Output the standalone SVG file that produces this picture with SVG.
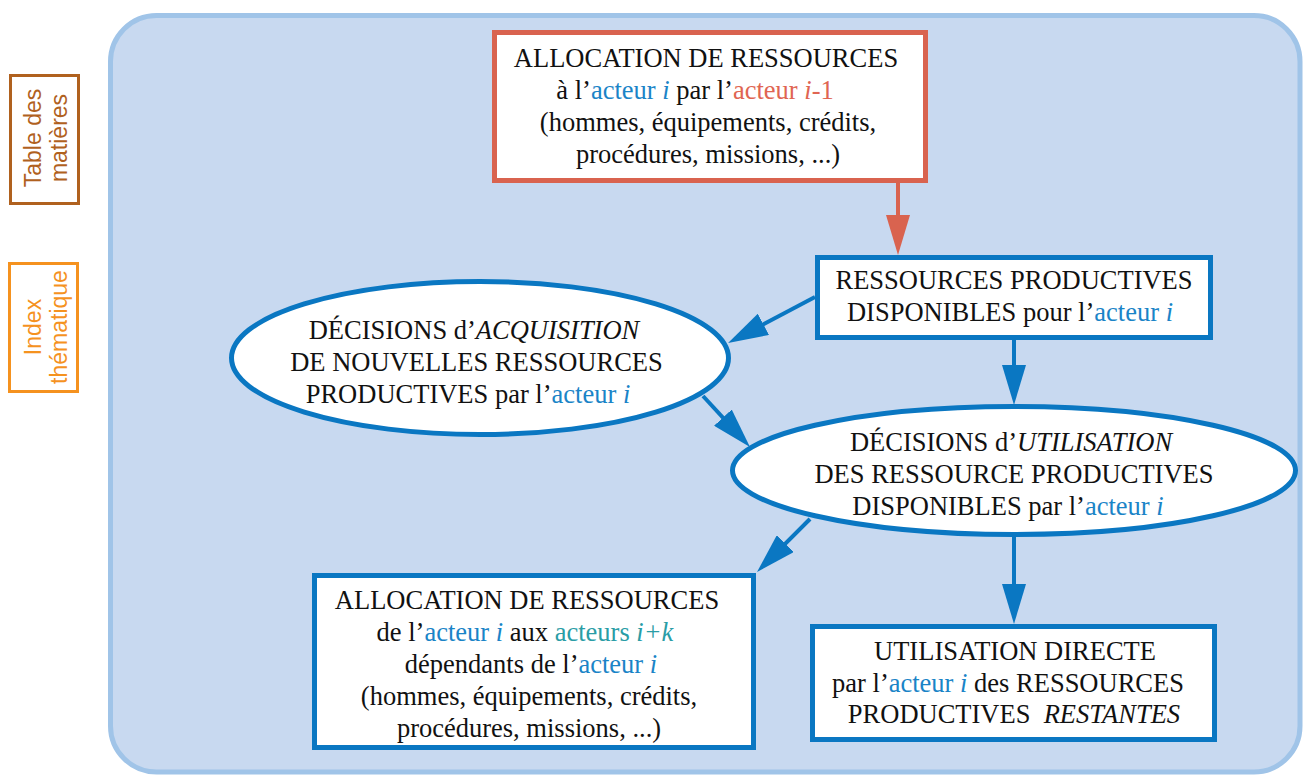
<svg xmlns="http://www.w3.org/2000/svg" width="1304" height="778" viewBox="0 0 1304 778">
<style>
.t{font-family:"Liberation Serif","Times New Roman",serif;font-size:26.5px;fill:#111;text-anchor:middle}
.b{fill:#1A84C7}
.r{fill:#E06552}
.g{fill:#2A9DA6}
.it{font-style:italic}
.side{font-family:"Liberation Sans",Arial,sans-serif;font-size:23px;text-anchor:middle}
.nodeB{fill:#fff;stroke:#0A77C2;stroke-width:5}
.nodeR{fill:#fff;stroke:#D9634F;stroke-width:5}
.cB{stroke:#0A77C2;stroke-width:4;fill:none}
.cR{stroke:#D9634F;stroke-width:4;fill:none}
</style>
<defs>
<marker id="ab" markerUnits="userSpaceOnUse" markerWidth="40" markerHeight="24" refX="30" refY="12" orient="auto"><path d="M0,0 L40,12 L0,24 z" fill="#0A77C2"/></marker>
<marker id="ar" markerUnits="userSpaceOnUse" markerWidth="40" markerHeight="24" refX="30" refY="12" orient="auto"><path d="M0,0 L40,12 L0,24 z" fill="#D9634F"/></marker>
</defs>
<rect width="1304" height="778" fill="#fff"/>
<g id="sidebar">
<g id="toc">
<rect x="10.5" y="75.5" width="68" height="128" fill="none" stroke="#B0611E" stroke-width="3"/>
<text class="side" fill="#B0611E" transform="translate(41,138) rotate(-90)">Table des</text>
<text class="side" fill="#B0611E" transform="translate(67,138) rotate(-90)">matières</text>
</g>
<g id="index">
<rect x="9.5" y="263.5" width="68" height="128" fill="none" stroke="#F5921F" stroke-width="3"/>
<text class="side" fill="#F5921F" transform="translate(41,327) rotate(-90)">Index</text>
<text class="side" fill="#F5921F" transform="translate(67,327) rotate(-90)">thématique</text>
</g>
</g>
<g id="background">
<rect x="110.5" y="15.5" width="1189.5" height="756.5" rx="46" ry="46" fill="#C8D9F0" stroke="#A0C4E8" stroke-width="5"/>
</g>
<g id="connectors">
<line class="cR" x1="898" y1="183" x2="898" y2="245" marker-end="url(#ar)"/>
<line class="cB" x1="815" y1="297" x2="736.9" y2="338.4" marker-end="url(#ab)"/>
<line class="cB" x1="1014" y1="340" x2="1014" y2="395" marker-end="url(#ab)"/>
<line class="cB" x1="703" y1="396" x2="743.2" y2="439.7" marker-end="url(#ab)"/>
<line class="cB" x1="810" y1="519" x2="764.1" y2="564.9" marker-end="url(#ab)"/>
<line class="cB" x1="1014" y1="537" x2="1014" y2="614" marker-end="url(#ab)"/>
</g>
<g id="alloc-in">
<rect class="nodeR" x="494.5" y="32.5" width="431" height="148"/>
<text class="t" x="706" y="67">ALLOCATION DE RESSOURCES</text>
<text class="t" x="695" y="99">à l’<tspan class="b">acteur </tspan><tspan class="b it">i</tspan> par l’<tspan class="r">acteur </tspan><tspan class="r it">i</tspan><tspan class="r">-1</tspan></text>
<text class="t" x="708" y="131">(hommes, équipements, crédits,</text>
<text class="t" x="708" y="163">procédures, missions, ...)</text>
</g>
<g id="ressources">
<rect class="nodeB" x="817.5" y="257.5" width="393" height="80"/>
<text class="t" x="1014" y="289">RESSOURCES PRODUCTIVES</text>
<text class="t" x="1010" y="321">DISPONIBLES pour l’<tspan class="b">acteur </tspan><tspan class="b it">i</tspan></text>
</g>
<g id="acquisition">
<ellipse class="nodeB" cx="480" cy="358" rx="248.5" ry="76.5"/>
<text class="t" x="474" y="339">DÉCISIONS d’<tspan class="it">ACQUISITION</tspan></text>
<text class="t" x="476.5" y="371">DE NOUVELLES RESSOURCES</text>
<text class="t" x="468" y="403">PRODUCTIVES par l’<tspan class="b">acteur </tspan><tspan class="b it">i</tspan></text>
</g>
<g id="utilisation">
<ellipse class="nodeB" cx="1014" cy="470.5" rx="281.5" ry="64"/>
<text class="t" x="1011" y="451">DÉCISIONS d’<tspan class="it">UTILISATION</tspan></text>
<text class="t" x="1014" y="483">DES RESSOURCE PRODUCTIVES</text>
<text class="t" x="1008" y="515">DISPONIBLES par l’<tspan class="b">acteur </tspan><tspan class="b it">i</tspan></text>
</g>
<g id="alloc-out">
<rect class="nodeB" x="314.5" y="575.5" width="439" height="172"/>
<text class="t" x="527" y="609">ALLOCATION DE RESSOURCES</text>
<text class="t" x="525" y="641">de l’<tspan class="b">acteur </tspan><tspan class="b it">i</tspan> aux <tspan class="g">acteurs </tspan><tspan class="g it">i+k</tspan></text>
<text class="t" x="531" y="673">dépendants de l’<tspan class="b">acteur </tspan><tspan class="b it">i</tspan></text>
<text class="t" x="529" y="705">(hommes, équipements, crédits,</text>
<text class="t" x="529" y="737">procédures, missions, ...)</text>
</g>
<g id="directe">
<rect class="nodeB" x="812.5" y="626.5" width="402" height="113"/>
<text class="t" x="1015" y="660">UTILISATION DIRECTE</text>
<text class="t" x="1008" y="692">par l’<tspan class="b">acteur </tspan><tspan class="b it">i</tspan> des RESSOURCES</text>
<text class="t" x="1014" y="723" xml:space="preserve">PRODUCTIVES  <tspan class="it">RESTANTES</tspan></text>
</g>
</svg>
